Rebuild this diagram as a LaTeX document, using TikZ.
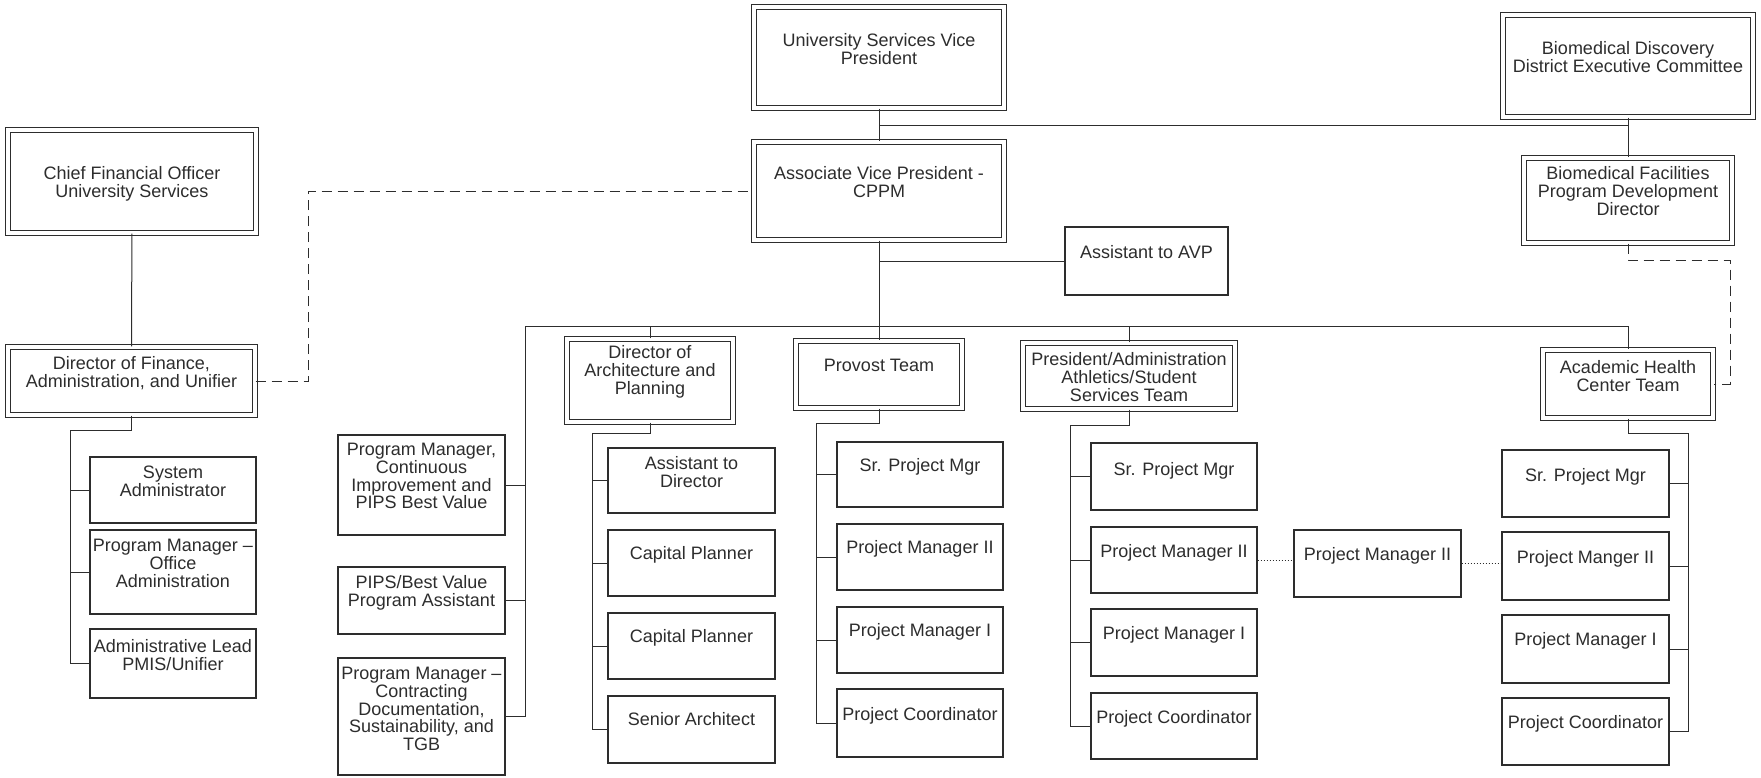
\documentclass[tikz,border=0pt]{standalone}
\usepackage{fontspec}
\setmainfont{Liberation Sans}
\usetikzlibrary{calc}
\definecolor{ink}{RGB}{45,45,45}
\newcommand\orgbox[8]{%
  \pgfmathsetmacro\obw{(#5-#3)*0.5}%
  \pgfmathsetmacro\obh{(#6-#4)*0.5}%
  \pgfmathsetmacro\obt{#7*0.5}%
  \node[#1] (#2) at ({(#3+#5)/2},{(#4+#6)/2}) {\parbox[c][\obh pt][t]{\obw pt}{\centering\rule{0pt}{\obt pt}#8\par}};%
}
\begin{document}
\begin{tikzpicture}[x=0.5pt,y=-0.5pt,
  dbox/.style={draw=ink, double=white, double distance=1.8pt, line width=0.65pt, inner sep=0pt, text=ink, font=\fontsize{9}{8.9}\selectfont},
  sbox/.style={draw=ink, line width=0.7pt, inner sep=0pt, text=ink, font=\fontsize{9}{8.9}\selectfont},
  link/.style={draw=ink, line width=0.5pt},
  dlink/.style={link, dash pattern=on 5pt off 3pt},
  olink/.style={link, dash pattern=on 0.6pt off 0.9pt}]
\fill[white] (0,0) rectangle (1761,777);
\useasboundingbox (0,0) rectangle (1761,777);

% top level
\orgbox{dbox}{cfo}{8}{130}{256}{233}{49.5}{Chief Financial Officer\\University Services}
\orgbox{dbox}{dirfin}{8}{347}{255}{415}{22.5}{Director of Finance,\\Administration, and Unifier}
\orgbox{dbox}{usvp}{754}{7}{1004}{108}{39.5}{University Services Vice\\President}
\orgbox{dbox}{avp}{754}{142}{1004}{240}{37.5}{Associate Vice President -\\CPPM}
\orgbox{sbox}{asst}{1065}{227}{1228}{295}{31.5}{Assistant to AVP}
\orgbox{dbox}{bddec}{1503}{15}{1753}{117}{39.5}{Biomedical Discovery\\District Executive Committee}
\orgbox{dbox}{bfpdd}{1524}{158}{1732}{243}{21.5}{Biomedical Facilities\\Program Development\\Director}
\orgbox{dbox}{dirarch}{567}{339}{733}{422}{19.5}{Director of\\Architecture and\\Planning}
\orgbox{dbox}{provost}{796}{341}{962}{408}{30.5}{Provost Team}
\orgbox{dbox}{pres}{1023}{343}{1235}{409}{22.5}{President/Administration\\Athletics/Student\\Services Team}
\orgbox{dbox}{ahc}{1543}{350}{1713}{418}{23.5}{Academic Health\\Center Team}

% finance column
\orgbox{sbox}{sysadmin}{90}{457}{256}{523}{21.5}{System\\Administrator}
\orgbox{sbox}{pmoffice}{90}{530}{256}{614}{21.5}{Program Manager –\\Office\\Administration}
\orgbox{sbox}{adminlead}{90}{629}{256}{698}{23.5}{Administrative Lead\\PMIS/Unifier}

% program column
\orgbox{sbox}{pmci}{338}{435}{505}{535}{20.5}{Program Manager,\\Continuous\\Improvement and\\PIPS Best Value}
\orgbox{sbox}{pips}{338}{567}{505}{634}{21.5}{PIPS/Best Value\\Program Assistant}
\orgbox{sbox}{pmcontr}{338}{658}{505}{775}{21.5}{Program Manager –\\Contracting\\Documentation,\\Sustainability, and\\TGB}

% architecture column
\orgbox{sbox}{asstdir}{608}{448}{775}{513}{21.5}{Assistant to\\Director}
\orgbox{sbox}{cappla}{608}{530}{775}{596}{29.5}{Capital Planner}
\orgbox{sbox}{capplb}{608}{613}{775}{679}{29.5}{Capital Planner}
\orgbox{sbox}{senarch}{608}{696}{775}{763}{29.5}{Senior Architect}

% provost column
\orgbox{sbox}{provspm}{837}{442}{1003}{507}{29.5}{Sr. Project Mgr}
\orgbox{sbox}{provpm2}{837}{524}{1003}{590}{29.5}{Project Manager II}
\orgbox{sbox}{provpm1}{837}{607}{1003}{673}{29.5}{Project Manager I}
\orgbox{sbox}{provpc}{837}{689}{1003}{757}{31.5}{Project Coordinator}

% president column
\orgbox{sbox}{presspm}{1091}{443}{1257}{510}{32.5}{Sr. Project Mgr}
\orgbox{sbox}{prespm2}{1091}{527}{1257}{593}{30.5}{Project Manager II}
\orgbox{sbox}{prespm1}{1091}{609}{1257}{676}{30.5}{Project Manager I}
\orgbox{sbox}{prespc}{1091}{693}{1257}{759}{30.5}{Project Coordinator}

\orgbox{sbox}{midpm}{1294}{530}{1461}{597}{30.5}{Project Manager II}

% academic health column
\orgbox{sbox}{ahcspm}{1502}{450}{1669}{517}{31.5}{Sr. Project Mgr}
\orgbox{sbox}{ahcpm2}{1502}{532}{1669}{600}{31.5}{Project Manger II}
\orgbox{sbox}{ahcpm1}{1502}{615}{1669}{683}{30.5}{Project Manager I}
\orgbox{sbox}{ahcpc}{1502}{698}{1669}{765}{30.5}{Project Coordinator}

% top connectors
\draw[link] (usvp) -- (avp);
\coordinate (vpmid) at ($(usvp.south)!0.5!(avp.north)$);
\draw[link] (vpmid) -- (vpmid -| bddec.south);
\draw[link] (bddec) -- (bfpdd);
\draw[link] (avp) -- (provost);
\draw[link] (asst.west) -- (asst.west -| avp.south);
\draw[link] (cfo) -- (dirfin);

% bus
\coordinate (busL) at (525,326);
\coordinate (busR) at (busL -| ahc.north);
\draw[link] (busL) -- (busR) -- (ahc.north);
\draw[link] (dirarch.north) -- (dirarch.north |- busL);
\draw[link] (pres.north) -- (pres.north |- busL);
\draw[link] (busL) |- (pmcontr.east);
\draw[link] (pmci.east) -- (pmci.east -| busL);
\draw[link] (pips.east) -- (pips.east -| busL);

% finance children
\coordinate (finsp) at (70,430);
\draw[link] (dirfin.south) |- (finsp) |- (adminlead.west);
\draw[link] (sysadmin.west) -- (sysadmin.west -| finsp);
\draw[link] (pmoffice.west) -- (pmoffice.west -| finsp);

% architecture children
\coordinate (archsp) at (592,433);
\draw[link] (dirarch.south) |- (archsp) |- (senarch.west);
\draw[link] (asstdir.west) -- (asstdir.west -| archsp);
\draw[link] (cappla.west) -- (cappla.west -| archsp);
\draw[link] (capplb.west) -- (capplb.west -| archsp);

% provost children
\coordinate (provsp) at (816,423);
\draw[link] (provost.south) |- (provsp) |- (provpc.west);
\draw[link] (provspm.west) -- (provspm.west -| provsp);
\draw[link] (provpm2.west) -- (provpm2.west -| provsp);
\draw[link] (provpm1.west) -- (provpm1.west -| provsp);

% president children
\coordinate (pressp) at (1070,425);
\draw[link] (pres.south) |- (pressp) |- (prespc.west);
\draw[link] (presspm.west) -- (presspm.west -| pressp);
\draw[link] (prespm2.west) -- (prespm2.west -| pressp);
\draw[link] (prespm1.west) -- (prespm1.west -| pressp);

% academic health children
\coordinate (ahcsp) at (1688,433);
\draw[link] (ahc.south) |- (ahcsp) |- (ahcpc.east);
\draw[link] (ahcspm.east) -- (ahcspm.east -| ahcsp);
\draw[link] (ahcpm2.east) -- (ahcpm2.east -| ahcsp);
\draw[link] (ahcpm1.east) -- (ahcpm1.east -| ahcsp);

% dotted links
\draw[olink] (prespm2.east) -- (prespm2.east -| midpm.west);
\draw[olink] (midpm.east) -- (midpm.east -| ahcpm2.west);

% dashed links
\draw[dlink] (dirfin.east) -- ++(53,0) |- (avp.west);
\coordinate (dashR) at (1730,260);
\draw[dlink] (bfpdd.south) |- (dashR) |- (ahc.east);
\end{tikzpicture}
\end{document}
